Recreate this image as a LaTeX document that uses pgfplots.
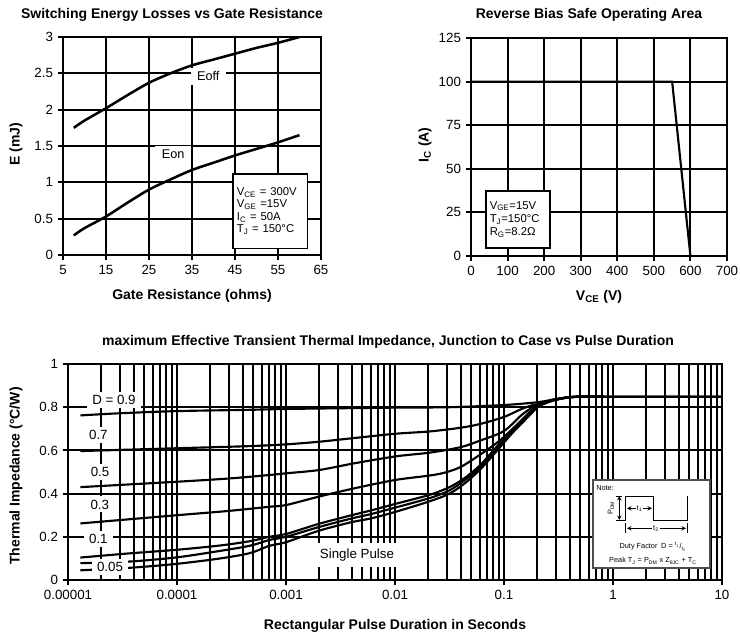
\documentclass[border=0pt]{standalone}
\usepackage{fontspec}
\setmainfont{Liberation Sans}
\usepackage{pgfplots}
\pgfplotsset{compat=1.18}

\pgfplotsset{
  sheet/.style={
    scale only axis, anchor=south west,
    axis line style={line width=2.2pt},
    grid=major,
    major grid style={line width=1.5pt, black},
    tick align=outside, xtick pos=left, ytick pos=left,
    major tick length=4pt,
    tick style={line width=1.5pt, black},
    tick label style={font=\fontsize{10}{12}\selectfont},
    /pgf/number format/assume math mode=true,
  },
  curve/.style={black, line width=1.6pt, no marks, line join=round, smooth, tension=0.5},
}

\begin{document}
\begin{tikzpicture}[x=0.75pt, y=-0.75pt]
\useasboundingbox (0,0) rectangle (740,637);

% switching energy vs gate resistance
\begin{axis}[sheet, at={(47.25pt,-191.25pt)}, width=193.5pt, height=163.5pt,
  xmin=5, xmax=65, ymin=0, ymax=3,
  xtick={5,15,...,65}, ytick={0,0.5,...,3}]
\addplot[curve, line width=1.9pt] coordinates {
  (7.5,1.75) (10,1.85) (15,2.02) (20,2.2) (25,2.37) (30,2.5) (35,2.61)
  (40,2.69) (45,2.77) (50,2.85) (55,2.92) (60,3.0)};
\addplot[curve, line width=1.9pt] coordinates {
  (7.5,0.27) (10,0.37) (15,0.53) (20,0.72) (25,0.9) (30,1.04) (35,1.17)
  (40,1.27) (45,1.37) (50,1.46) (55,1.55) (60,1.65)};
\node[fill=white, inner xsep=5pt, inner ysep=3pt, font=\fontsize{9.5}{11}\selectfont]
  at (axis cs:38.8,2.46) {Eoff};
\node[fill=white, inner xsep=5pt, inner ysep=3pt, font=\fontsize{9.5}{11}\selectfont]
  at (axis cs:30.6,1.39) {Eon};
\node[draw, fill=white, line width=1.3pt, anchor=north west, align=left,
  text width=50pt, minimum height=56pt, inner sep=3pt,
  font=\fontsize{8.5}{9.3}\selectfont] at (axis cs:44.3,1.13)
  {V\textsubscript{CE} = 300V\\V\textsubscript{GE} =15V\\I\textsubscript{C} = 50A\\T\textsubscript{J} = 150°C};
\end{axis}

% reverse bias safe operating area
\begin{axis}[sheet, at={(353.25pt,-192pt)}, width=192pt, height=163.5pt,
  xmin=0, xmax=700, ymin=0, ymax=125,
  xtick={0,100,...,700}, ytick={0,25,...,125}]
\addplot[black, line width=1.6pt, no marks] coordinates {(0,100) (550,100) (600,0)};
\node[draw, fill=white, line width=1.3pt, anchor=north west, align=left,
  text width=42pt, minimum height=42.75pt, inner sep=3pt,
  font=\fontsize{8.5}{10}\selectfont] at (axis cs:38,37.8)
  {V\textsubscript{GE}=15V\\T\textsubscript{J}=150°C\\R\textsubscript{G}=8.2Ω};
\end{axis}

% transient thermal impedance
\begin{axis}[sheet, at={(51pt,-435pt)}, width=490.5pt, height=162pt,
  xmode=log, xmin=1e-5, xmax=10, ymin=0, ymax=1,
  xtick={1e-5,1e-4,0.001,0.01,0.1,1,10},
  xticklabels={0.00001,0.0001,0.001,0.01,0.1,1,10},
  minor xtick={2e-5,3e-5,4e-5,5e-5,6e-5,7e-5,8e-5,9e-5,
    2e-4,3e-4,4e-4,5e-4,6e-4,7e-4,8e-4,9e-4,
    0.002,0.003,0.004,0.005,0.006,0.007,0.008,0.009,
    0.02,0.03,0.04,0.05,0.06,0.07,0.08,0.09,
    0.2,0.3,0.4,0.5,0.6,0.7,0.8,0.9,
    2,3,4,5,6,7,8,9},
  ytick={0,0.2,...,1},
  grid=both, minor tick length=0pt,
  minor grid style={line width=1.5pt, black}]
% D = 0.9
\addplot[curve] coordinates {
  (1.3e-5,0.762) (3e-5,0.772) (1e-4,0.782) (4.7e-4,0.788) (1e-3,0.792)
  (0.01,0.798) (0.0316,0.80) (0.1,0.81) (0.21,0.824) (0.3,0.838) (0.45,0.848)
  (1,0.848) (10,0.848)};
% D = 0.7
\addplot[curve] coordinates {
  (1.3e-5,0.597) (1e-4,0.61) (4.7e-4,0.62) (1e-3,0.628) (2e-3,0.64)
  (4e-3,0.656) (0.01,0.677) (0.021,0.688) (0.04,0.705) (0.06,0.722)
  (0.1,0.755) (0.15,0.795) (0.21,0.818) (0.3,0.836) (0.45,0.848)
  (1,0.848) (10,0.848)};
% D = 0.5
\addplot[curve] coordinates {
  (1.3e-5,0.43) (1e-4,0.455) (3e-4,0.47) (7e-4,0.486) (1e-3,0.494)
  (2e-3,0.509) (4.2e-3,0.54) (0.01,0.572) (0.021,0.59) (0.04,0.615)
  (0.06,0.645) (0.1,0.69) (0.15,0.77) (0.21,0.815) (0.3,0.836) (0.45,0.848)
  (1,0.848) (10,0.848)};
% D = 0.3
\addplot[curve] coordinates {
  (1.3e-5,0.262) (1e-4,0.30) (3e-4,0.32) (7e-4,0.339) (1e-3,0.347)
  (2e-3,0.386) (4.2e-3,0.424) (0.01,0.463) (0.021,0.484) (0.03,0.50)
  (0.043,0.532) (0.085,0.633) (0.12,0.70) (0.174,0.78) (0.21,0.812)
  (0.3,0.836) (0.45,0.848) (1,0.848) (10,0.848)};
% D = 0.1
\addplot[curve] coordinates {
  (1.3e-5,0.104) (3.8e-5,0.124) (1e-4,0.14) (2.5e-4,0.16) (4.7e-4,0.18)
  (7e-4,0.2) (1e-3,0.213) (2e-3,0.26) (4e-3,0.3) (6e-3,0.322) (0.01,0.352)
  (0.021,0.395) (0.0316,0.43) (0.043,0.47) (0.06,0.53) (0.085,0.615)
  (0.12,0.695) (0.174,0.775) (0.21,0.81) (0.3,0.836) (0.45,0.848)
  (1,0.848) (10,0.848)};
% D = 0.05
\addplot[curve] coordinates {
  (1.3e-5,0.078) (3.8e-5,0.086) (1e-4,0.105) (2.5e-4,0.135) (4.7e-4,0.159)
  (7e-4,0.185) (1e-3,0.2) (2e-3,0.245) (4e-3,0.285) (6e-3,0.305) (0.01,0.335)
  (0.021,0.38) (0.0316,0.415) (0.043,0.46) (0.06,0.52) (0.085,0.605)
  (0.12,0.688) (0.174,0.77) (0.21,0.808) (0.3,0.835) (0.45,0.848)
  (1,0.848) (10,0.848)};
% single pulse
\addplot[curve] coordinates {
  (1.3e-5,0.045) (3.8e-5,0.057) (1e-4,0.075) (2.5e-4,0.1) (4.7e-4,0.125)
  (7e-4,0.158) (1e-3,0.175) (2e-3,0.228) (4e-3,0.268) (6e-3,0.285)
  (0.01,0.315) (0.021,0.365) (0.0316,0.40) (0.043,0.445) (0.06,0.51)
  (0.085,0.595) (0.12,0.682) (0.174,0.765) (0.21,0.805) (0.3,0.834)
  (0.45,0.848) (1,0.848) (10,0.848)};
\tikzset{dlab/.style={fill=white, inner xsep=4pt, inner ysep=2.5pt,
  font=\fontsize{10}{12}\selectfont}}
\node[dlab] at (axis cs:2.64e-5,0.833) {D = 0.9};
\node[dlab] at (axis cs:1.9e-5,0.671) {0.7};
\node[dlab] at (axis cs:1.97e-5,0.501) {0.5};
\node[dlab] at (axis cs:1.96e-5,0.35) {0.3};
\node[dlab] at (axis cs:1.9e-5,0.188) {0.1};
\node[dlab] at (axis cs:2.43e-5,0.059) {0.05};
\node[dlab, inner xsep=8pt, inner ysep=4pt] at (axis cs:4.48e-3,0.116) {Single Pulse};
\end{axis}

% note inset
\draw[fill=white, draw=black!70, line width=0.8pt] (593,480) rectangle (710,568);
\begin{scope}[font=\fontsize{5.5}{6.5}\selectfont]
\node[anchor=west, inner sep=0pt] at (596,488) {Note:};
\draw[line width=0.6pt] (622,520) -- (625,520) -- (625,496) -- (653,496) -- (653,520) -- (687,520) -- (687,496);
\draw[line width=0.5pt, <->, >=stealth] (619.3,496) -- (619.3,520);
\draw[line width=0.5pt] (616,496) -- (622,496) (616,520) -- (622,520);
\node[rotate=90, inner sep=0pt] at (611,508) {P\textsubscript{DM}};
\draw[line width=0.5pt, <->, >=stealth] (627,508.3) -- (652,508.3);
\node[fill=white, inner sep=0.8pt] at (639.5,508.3) {t\textsubscript{1}};
\draw[line width=0.5pt, <->, >=stealth] (627,528.3) -- (686,528.3);
\draw[line width=0.5pt] (625,523) -- (625,533) (687,523) -- (687,533);
\node[fill=white, inner sep=0.8pt] at (656,528.3) {t\textsubscript{2}};
\node at (653,547) {Duty Factor\enspace D = \textsuperscript{t\textsubscript{1}}/\textsubscript{t\textsubscript{2}}};
\node at (653,561) {Peak T\textsubscript{J} = P\textsubscript{DM} x Z\textsubscript{θJC} + T\textsubscript{C}};
\end{scope}

% titles and axis labels
\tikzset{ttl/.style={font=\bfseries\fontsize{10.5}{12}\selectfont, inner sep=0pt}}
\node[ttl] at (172,15) {Switching Energy Losses vs Gate Resistance};
\node[ttl] at (589,15) {Reverse Bias Safe Operating Area};
\node[ttl] at (388,342) {maximum Effective Transient Thermal Impedance, Junction to Case vs Pulse Duration};
\node[ttl] at (192,296) {Gate Resistance (ohms)};
\node[ttl] at (599,297) {V\textsubscript{CE} (V)};
\node[ttl] at (395,626) {Rectangular Pulse Duration in Seconds};
\node[ttl, rotate=90] at (16,144) {E (mJ)};
\node[ttl, rotate=90] at (425,145) {I\textsubscript{C} (A)};
\node[ttl, rotate=90] at (16,476) {Thermal Impedance (°C/W)};
\end{tikzpicture}
\end{document}
